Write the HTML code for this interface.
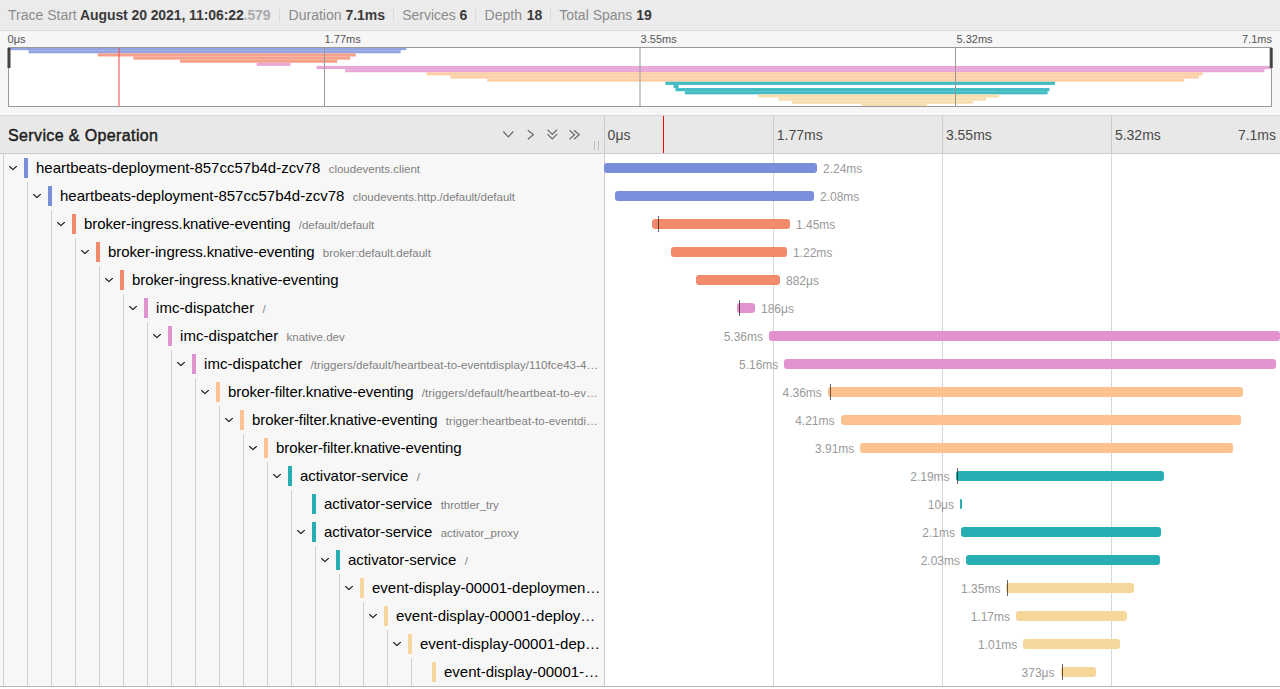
<!DOCTYPE html>
<html><head><meta charset="utf-8"><style>
*{box-sizing:border-box;margin:0;padding:0}
html,body{width:1280px;height:689px;overflow:hidden;background:#fff;font-family:"Liberation Sans",sans-serif;}
.abs{position:absolute}
#top{position:absolute;left:0;top:0;width:1280px;height:31px;background:#ebebeb;border-bottom:1px solid #dcdcdc}
#top span{position:absolute;top:0;line-height:30px;font-size:14px;white-space:nowrap}
.lbl{color:#8c8c8c}
.val{color:#3a3a3a;font-weight:bold}
.ms{color:#aaa}
.tight{letter-spacing:-0.09px}
.sep{position:absolute;top:9px;width:1px;height:13px;background:#dadada}
#mmwrap{position:absolute;left:0;top:31px;width:1280px;height:85px;background:#f6f6f6;border-bottom:1px solid #dadada}
.mmtick{position:absolute;top:2px;font-size:11px;color:#555;line-height:13px;white-space:nowrap}
#hdr{position:absolute;left:0;top:116px;width:1280px;height:38px;background:#e8e8e8;border-bottom:1px solid #cccccc}
#hdr h3{position:absolute;left:8px;top:1px;line-height:37px;font-size:16px;font-weight:normal;color:#1e1e1e;letter-spacing:0.38px;-webkit-text-stroke:0.45px #1e1e1e}
.htick{position:absolute;top:1px;line-height:37px;font-size:14px;color:#4a4a4a;white-space:nowrap}
#leftcol{position:absolute;left:0;top:154px;width:604px;height:532px;background:#f7f7f7}
#rightcol{position:absolute;left:605px;top:154px;width:675px;height:532px;background:#fff}
.vline{position:absolute;width:1px;background:#d8d8d8}
.guide{position:absolute;width:1px;background:#cfcfcf}
.cbar{position:absolute;width:4px;height:20px}
.name{position:absolute;white-space:nowrap;line-height:27px;height:27px;font-size:15px;color:#000}
.name small{font-size:11.5px;color:#808080;margin-left:8.3px}
.bar{position:absolute;height:10px;border-radius:3px}
.log{position:absolute;width:1px;height:16px;background:rgba(0,0,0,0.6)}
.blab{position:absolute;font-size:12px;color:#999;line-height:12px;white-space:nowrap}
</style></head><body>

<div id="top">
<span class="lbl" style="left:8px">Trace Start</span>
<span class="val tight" style="left:80px">August 20 2021, 11:06:22<span class="ms" style="position:static">.579</span></span>
<span class="lbl" style="left:288.6px">Duration</span>
<span class="val" style="left:345.4px">7.1ms</span>
<span class="lbl" style="left:402.2px">Services</span>
<span class="val" style="left:459.6px">6</span>
<span class="lbl" style="left:484.6px">Depth</span>
<span class="val" style="left:526.8px">18</span>
<span class="lbl" style="left:559.2px">Total Spans</span>
<span class="val" style="left:636.2px">19</span>
<div class="sep" style="left:279px"></div>
<div class="sep" style="left:393px"></div>
<div class="sep" style="left:475px"></div>
<div class="sep" style="left:550px"></div>
</div>
<div id="mmwrap">
<div class="mmtick" style="left:7.6px">0μs</div>
<div class="mmtick" style="left:324.6px">1.77ms</div>
<div class="mmtick" style="left:640.6px">3.55ms</div>
<div class="mmtick" style="left:956.5px">5.32ms</div>
<div class="mmtick" style="right:8px">7.1ms</div>
</div>
<svg class="abs" style="left:0;top:0" width="1280" height="116" viewBox="0 0 1280 116"><rect x="8" y="47" width="1264" height="60" fill="#fff"/><defs><clipPath id="mmclip"><rect x="9" y="48" width="1262" height="58"/></clipPath></defs><g clip-path="url(#mmclip)"><rect x="8.00" y="47.000" width="398.27" height="3.158" fill="#95a5e3"/><rect x="28.57" y="50.158" width="372.09" height="3.158" fill="#95a5e3"/><rect x="97.75" y="53.316" width="258.04" height="3.158" fill="#f5a189"/><rect x="133.28" y="56.474" width="216.90" height="3.158" fill="#f5a189"/><rect x="180.02" y="59.632" width="157.07" height="3.158" fill="#f5a189"/><rect x="256.69" y="62.789" width="33.66" height="3.158" fill="#e8a9d9"/><rect x="316.52" y="65.947" width="954.48" height="3.158" fill="#e8a9d9"/><rect x="345.13" y="69.105" width="919.39" height="3.158" fill="#e8a9d9"/><rect x="426.47" y="72.263" width="776.35" height="3.158" fill="#fdcfa7"/><rect x="450.21" y="75.421" width="748.86" height="3.158" fill="#fdcfa7"/><rect x="487.24" y="78.579" width="696.88" height="3.158" fill="#fdcfa7"/><rect x="665.43" y="81.737" width="389.67" height="3.158" fill="#40bcc2"/><rect x="673.66" y="84.895" width="5.00" height="3.158" fill="#40bcc2"/><rect x="675.53" y="88.053" width="373.96" height="3.158" fill="#40bcc2"/><rect x="684.88" y="91.211" width="362.75" height="3.158" fill="#40bcc2"/><rect x="758.32" y="94.368" width="240.69" height="3.158" fill="#f7deaf"/><rect x="778.37" y="97.526" width="207.55" height="3.158" fill="#f7deaf"/><rect x="792.02" y="100.684" width="180.81" height="3.158" fill="#f7deaf"/><rect x="861.57" y="103.842" width="65.63" height="3.158" fill="#f7deaf"/></g><line x1="324.5" y1="48" x2="324.5" y2="106" stroke="#999" stroke-width="1"/><line x1="640.0" y1="48" x2="640.0" y2="106" stroke="#999" stroke-width="1"/><line x1="955.5" y1="48" x2="955.5" y2="106" stroke="#999" stroke-width="1"/><line x1="119" y1="48" x2="119" y2="106" stroke="#f44" stroke-width="1"/><rect x="8.5" y="47.5" width="1263" height="59" fill="none" stroke="#999" stroke-width="1"/><rect x="7.5" y="48" width="3" height="20" fill="#444"/><rect x="1269.7" y="48" width="3" height="20" fill="#444"/></svg>
<div id="hdr"><h3>Service &amp; Operation</h3>
<div class="htick" style="left:607.6px">0μs</div>
<div class="htick" style="left:776.8px">1.77ms</div>
<div class="htick" style="left:945.9px">3.55ms</div>
<div class="htick" style="left:1114.9px">5.32ms</div>
<div class="htick" style="right:4px">7.1ms</div>
</div>
<svg class="abs" style="left:0;top:116px" width="604" height="38" viewBox="0 116 604 38">
<g fill="none" stroke="#666" stroke-width="1.15">
<polyline points="503.3,131.5 508.3,136.8 513.3,131.5"/>
<polyline points="527.8,130.2 533.4,134.7 527.8,139.2"/>
<polyline points="547.5,129.7 552.3,134.5 557.1,129.7"/><polyline points="547.5,134.2 552.3,139 557.1,134.2"/>
<polyline points="569.5,130.2 574.5,134.7 569.5,139.2"/><polyline points="574,130.2 579.2,134.7 574,139.2"/>
</g>
<line x1="594.5" y1="141" x2="594.5" y2="150" stroke="#bbb"/><line x1="598.5" y1="141" x2="598.5" y2="150" stroke="#bbb"/>
</svg>
<div id="leftcol"></div><div id="rightcol"></div>
<div class="vline" style="left:604px;top:116px;height:570px;background:#cccccc"></div>
<div class="vline" style="left:773px;top:116px;height:37px;background:#cccccc"></div>
<div class="vline" style="left:773px;top:154px;height:532px"></div>
<div class="vline" style="left:942px;top:116px;height:37px;background:#cccccc"></div>
<div class="vline" style="left:942px;top:154px;height:532px"></div>
<div class="vline" style="left:1111px;top:116px;height:37px;background:#cccccc"></div>
<div class="vline" style="left:1111px;top:154px;height:532px"></div>
<div class="vline" style="left:663px;top:116px;height:37px;background:#f00"></div>
<div class="guide" style="left:3px;top:154px;height:28px"></div>
<svg class="abs" style="left:8px;top:164px" width="11" height="8" viewBox="0 0 11 8"><polyline points="1.3,2.1 4.95,5.6 8.75,2.1" fill="none" stroke="#000" stroke-width="1.1"/></svg>
<div class="cbar" style="left:24px;top:158px;background:#7a8fdc"></div>
<div class="name" style="left:36px;top:154px"><span style="letter-spacing:0px">heartbeats-deployment-857cc57b4d-zcv78</span><small style="letter-spacing:0px">cloudevents.client</small></div>
<div class="bar" style="left:604px;top:163px;width:213.0px;background:#7a8fdc"></div>
<div class="blab" style="left:823.0px;top:163px">2.24ms</div>
<div class="guide" style="left:3px;top:182px;height:28px"></div>
<div class="guide" style="left:27px;top:182px;height:28px"></div>
<svg class="abs" style="left:32px;top:192px" width="11" height="8" viewBox="0 0 11 8"><polyline points="1.3,2.1 4.95,5.6 8.75,2.1" fill="none" stroke="#000" stroke-width="1.1"/></svg>
<div class="cbar" style="left:48px;top:186px;background:#7a8fdc"></div>
<div class="name" style="left:60px;top:182px"><span style="letter-spacing:0px">heartbeats-deployment-857cc57b4d-zcv78</span><small style="letter-spacing:0px">cloudevents.http./default/default</small></div>
<div class="bar" style="left:615px;top:191px;width:199.0px;background:#7a8fdc"></div>
<div class="blab" style="left:820.0px;top:191px">2.08ms</div>
<div class="guide" style="left:3px;top:210px;height:28px"></div>
<div class="guide" style="left:27px;top:210px;height:28px"></div>
<div class="guide" style="left:51px;top:210px;height:28px"></div>
<svg class="abs" style="left:56px;top:220px" width="11" height="8" viewBox="0 0 11 8"><polyline points="1.3,2.1 4.95,5.6 8.75,2.1" fill="none" stroke="#000" stroke-width="1.1"/></svg>
<div class="cbar" style="left:72px;top:214px;background:#f28a6b"></div>
<div class="name" style="left:84px;top:210px"><span style="letter-spacing:-0.09px">broker-ingress.knative-eventing</span><small style="letter-spacing:0px">/default/default</small></div>
<div class="bar" style="left:652px;top:219px;width:138.0px;background:#f28a6b"></div>
<div class="log" style="left:657.5px;top:216px"></div>
<div class="blab" style="left:796.0px;top:219px">1.45ms</div>
<div class="guide" style="left:3px;top:238px;height:28px"></div>
<div class="guide" style="left:27px;top:238px;height:28px"></div>
<div class="guide" style="left:51px;top:238px;height:28px"></div>
<div class="guide" style="left:75px;top:238px;height:28px"></div>
<svg class="abs" style="left:80px;top:248px" width="11" height="8" viewBox="0 0 11 8"><polyline points="1.3,2.1 4.95,5.6 8.75,2.1" fill="none" stroke="#000" stroke-width="1.1"/></svg>
<div class="cbar" style="left:96px;top:242px;background:#f28a6b"></div>
<div class="name" style="left:108px;top:238px"><span style="letter-spacing:-0.09px">broker-ingress.knative-eventing</span><small style="letter-spacing:0px">broker:default.default</small></div>
<div class="bar" style="left:671px;top:247px;width:116.0px;background:#f28a6b"></div>
<div class="blab" style="left:793.0px;top:247px">1.22ms</div>
<div class="guide" style="left:3px;top:266px;height:28px"></div>
<div class="guide" style="left:27px;top:266px;height:28px"></div>
<div class="guide" style="left:51px;top:266px;height:28px"></div>
<div class="guide" style="left:75px;top:266px;height:28px"></div>
<div class="guide" style="left:99px;top:266px;height:28px"></div>
<svg class="abs" style="left:104px;top:276px" width="11" height="8" viewBox="0 0 11 8"><polyline points="1.3,2.1 4.95,5.6 8.75,2.1" fill="none" stroke="#000" stroke-width="1.1"/></svg>
<div class="cbar" style="left:120px;top:270px;background:#f28a6b"></div>
<div class="name" style="left:132px;top:266px"><span style="letter-spacing:-0.09px">broker-ingress.knative-eventing</span></div>
<div class="bar" style="left:696px;top:275px;width:84.0px;background:#f28a6b"></div>
<div class="blab" style="left:786.0px;top:275px">882μs</div>
<div class="guide" style="left:3px;top:294px;height:28px"></div>
<div class="guide" style="left:27px;top:294px;height:28px"></div>
<div class="guide" style="left:51px;top:294px;height:28px"></div>
<div class="guide" style="left:75px;top:294px;height:28px"></div>
<div class="guide" style="left:99px;top:294px;height:28px"></div>
<div class="guide" style="left:123px;top:294px;height:28px"></div>
<svg class="abs" style="left:128px;top:304px" width="11" height="8" viewBox="0 0 11 8"><polyline points="1.3,2.1 4.95,5.6 8.75,2.1" fill="none" stroke="#000" stroke-width="1.1"/></svg>
<div class="cbar" style="left:144px;top:298px;background:#e293cf"></div>
<div class="name" style="left:156px;top:294px"><span style="letter-spacing:0.05px">imc-dispatcher</span><small style="letter-spacing:0px">/</small></div>
<div class="bar" style="left:737px;top:303px;width:18.0px;background:#e293cf"></div>
<div class="log" style="left:739.4px;top:300px"></div>
<div class="blab" style="left:761.0px;top:303px">186μs</div>
<div class="guide" style="left:3px;top:322px;height:28px"></div>
<div class="guide" style="left:27px;top:322px;height:28px"></div>
<div class="guide" style="left:51px;top:322px;height:28px"></div>
<div class="guide" style="left:75px;top:322px;height:28px"></div>
<div class="guide" style="left:99px;top:322px;height:28px"></div>
<div class="guide" style="left:123px;top:322px;height:28px"></div>
<div class="guide" style="left:147px;top:322px;height:28px"></div>
<svg class="abs" style="left:152px;top:332px" width="11" height="8" viewBox="0 0 11 8"><polyline points="1.3,2.1 4.95,5.6 8.75,2.1" fill="none" stroke="#000" stroke-width="1.1"/></svg>
<div class="cbar" style="left:168px;top:326px;background:#e293cf"></div>
<div class="name" style="left:180px;top:322px"><span style="letter-spacing:0.05px">imc-dispatcher</span><small style="letter-spacing:0px">knative.dev</small></div>
<div class="bar" style="left:769px;top:331px;width:511.0px;background:#e293cf"></div>
<div class="blab" style="right:517.0px;top:331px">5.36ms</div>
<div class="guide" style="left:3px;top:350px;height:28px"></div>
<div class="guide" style="left:27px;top:350px;height:28px"></div>
<div class="guide" style="left:51px;top:350px;height:28px"></div>
<div class="guide" style="left:75px;top:350px;height:28px"></div>
<div class="guide" style="left:99px;top:350px;height:28px"></div>
<div class="guide" style="left:123px;top:350px;height:28px"></div>
<div class="guide" style="left:147px;top:350px;height:28px"></div>
<div class="guide" style="left:171px;top:350px;height:28px"></div>
<svg class="abs" style="left:176px;top:360px" width="11" height="8" viewBox="0 0 11 8"><polyline points="1.3,2.1 4.95,5.6 8.75,2.1" fill="none" stroke="#000" stroke-width="1.1"/></svg>
<div class="cbar" style="left:192px;top:354px;background:#e293cf"></div>
<div class="name" style="left:204px;top:350px"><span style="letter-spacing:0.05px">imc-dispatcher</span><small style="letter-spacing:0.07px">/triggers/default/heartbeat-to-eventdisplay/110fce43-4…</small></div>
<div class="bar" style="left:784.3px;top:359px;width:491.7px;background:#e293cf"></div>
<div class="blab" style="right:501.7px;top:359px">5.16ms</div>
<div class="guide" style="left:3px;top:378px;height:28px"></div>
<div class="guide" style="left:27px;top:378px;height:28px"></div>
<div class="guide" style="left:51px;top:378px;height:28px"></div>
<div class="guide" style="left:75px;top:378px;height:28px"></div>
<div class="guide" style="left:99px;top:378px;height:28px"></div>
<div class="guide" style="left:123px;top:378px;height:28px"></div>
<div class="guide" style="left:147px;top:378px;height:28px"></div>
<div class="guide" style="left:171px;top:378px;height:28px"></div>
<div class="guide" style="left:195px;top:378px;height:28px"></div>
<svg class="abs" style="left:200px;top:388px" width="11" height="8" viewBox="0 0 11 8"><polyline points="1.3,2.1 4.95,5.6 8.75,2.1" fill="none" stroke="#000" stroke-width="1.1"/></svg>
<div class="cbar" style="left:216px;top:382px;background:#fcc391"></div>
<div class="name" style="left:228px;top:378px"><span style="letter-spacing:-0.1px">broker-filter.knative-eventing</span><small style="letter-spacing:0.12px">/triggers/default/heartbeat-to-ev…</small></div>
<div class="bar" style="left:827.8px;top:387px;width:415.2px;background:#fcc391"></div>
<div class="log" style="left:830.2px;top:384px"></div>
<div class="blab" style="right:458.2px;top:387px">4.36ms</div>
<div class="guide" style="left:3px;top:406px;height:28px"></div>
<div class="guide" style="left:27px;top:406px;height:28px"></div>
<div class="guide" style="left:51px;top:406px;height:28px"></div>
<div class="guide" style="left:75px;top:406px;height:28px"></div>
<div class="guide" style="left:99px;top:406px;height:28px"></div>
<div class="guide" style="left:123px;top:406px;height:28px"></div>
<div class="guide" style="left:147px;top:406px;height:28px"></div>
<div class="guide" style="left:171px;top:406px;height:28px"></div>
<div class="guide" style="left:195px;top:406px;height:28px"></div>
<div class="guide" style="left:219px;top:406px;height:28px"></div>
<svg class="abs" style="left:224px;top:416px" width="11" height="8" viewBox="0 0 11 8"><polyline points="1.3,2.1 4.95,5.6 8.75,2.1" fill="none" stroke="#000" stroke-width="1.1"/></svg>
<div class="cbar" style="left:240px;top:410px;background:#fcc391"></div>
<div class="name" style="left:252px;top:406px"><span style="letter-spacing:-0.1px">broker-filter.knative-eventing</span><small style="letter-spacing:0.06px">trigger:heartbeat-to-eventdi…</small></div>
<div class="bar" style="left:840.5px;top:415px;width:400.5px;background:#fcc391"></div>
<div class="blab" style="right:445.5px;top:415px">4.21ms</div>
<div class="guide" style="left:3px;top:434px;height:28px"></div>
<div class="guide" style="left:27px;top:434px;height:28px"></div>
<div class="guide" style="left:51px;top:434px;height:28px"></div>
<div class="guide" style="left:75px;top:434px;height:28px"></div>
<div class="guide" style="left:99px;top:434px;height:28px"></div>
<div class="guide" style="left:123px;top:434px;height:28px"></div>
<div class="guide" style="left:147px;top:434px;height:28px"></div>
<div class="guide" style="left:171px;top:434px;height:28px"></div>
<div class="guide" style="left:195px;top:434px;height:28px"></div>
<div class="guide" style="left:219px;top:434px;height:28px"></div>
<div class="guide" style="left:243px;top:434px;height:28px"></div>
<svg class="abs" style="left:248px;top:444px" width="11" height="8" viewBox="0 0 11 8"><polyline points="1.3,2.1 4.95,5.6 8.75,2.1" fill="none" stroke="#000" stroke-width="1.1"/></svg>
<div class="cbar" style="left:264px;top:438px;background:#fcc391"></div>
<div class="name" style="left:276px;top:434px"><span style="letter-spacing:-0.1px">broker-filter.knative-eventing</span></div>
<div class="bar" style="left:860.3px;top:443px;width:372.7px;background:#fcc391"></div>
<div class="blab" style="right:425.7px;top:443px">3.91ms</div>
<div class="guide" style="left:3px;top:462px;height:28px"></div>
<div class="guide" style="left:27px;top:462px;height:28px"></div>
<div class="guide" style="left:51px;top:462px;height:28px"></div>
<div class="guide" style="left:75px;top:462px;height:28px"></div>
<div class="guide" style="left:99px;top:462px;height:28px"></div>
<div class="guide" style="left:123px;top:462px;height:28px"></div>
<div class="guide" style="left:147px;top:462px;height:28px"></div>
<div class="guide" style="left:171px;top:462px;height:28px"></div>
<div class="guide" style="left:195px;top:462px;height:28px"></div>
<div class="guide" style="left:219px;top:462px;height:28px"></div>
<div class="guide" style="left:243px;top:462px;height:28px"></div>
<div class="guide" style="left:267px;top:462px;height:28px"></div>
<svg class="abs" style="left:272px;top:472px" width="11" height="8" viewBox="0 0 11 8"><polyline points="1.3,2.1 4.95,5.6 8.75,2.1" fill="none" stroke="#000" stroke-width="1.1"/></svg>
<div class="cbar" style="left:288px;top:466px;background:#27adb2"></div>
<div class="name" style="left:300px;top:462px"><span style="letter-spacing:-0.05px">activator-service</span><small style="letter-spacing:0px">/</small></div>
<div class="bar" style="left:955.6px;top:471px;width:208.4px;background:#27adb2"></div>
<div class="log" style="left:957.0px;top:468px"></div>
<div class="blab" style="right:330.4px;top:471px">2.19ms</div>
<div class="guide" style="left:3px;top:490px;height:28px"></div>
<div class="guide" style="left:27px;top:490px;height:28px"></div>
<div class="guide" style="left:51px;top:490px;height:28px"></div>
<div class="guide" style="left:75px;top:490px;height:28px"></div>
<div class="guide" style="left:99px;top:490px;height:28px"></div>
<div class="guide" style="left:123px;top:490px;height:28px"></div>
<div class="guide" style="left:147px;top:490px;height:28px"></div>
<div class="guide" style="left:171px;top:490px;height:28px"></div>
<div class="guide" style="left:195px;top:490px;height:28px"></div>
<div class="guide" style="left:219px;top:490px;height:28px"></div>
<div class="guide" style="left:243px;top:490px;height:28px"></div>
<div class="guide" style="left:267px;top:490px;height:28px"></div>
<div class="guide" style="left:291px;top:490px;height:28px"></div>
<div class="cbar" style="left:312px;top:494px;background:#27adb2"></div>
<div class="name" style="left:324px;top:490px"><span style="letter-spacing:-0.05px">activator-service</span><small style="letter-spacing:0px">throttler_try</small></div>
<div class="bar" style="left:960px;top:499px;width:2.0px;background:#27adb2"></div>
<div class="blab" style="right:326.0px;top:499px">10μs</div>
<div class="guide" style="left:3px;top:518px;height:28px"></div>
<div class="guide" style="left:27px;top:518px;height:28px"></div>
<div class="guide" style="left:51px;top:518px;height:28px"></div>
<div class="guide" style="left:75px;top:518px;height:28px"></div>
<div class="guide" style="left:99px;top:518px;height:28px"></div>
<div class="guide" style="left:123px;top:518px;height:28px"></div>
<div class="guide" style="left:147px;top:518px;height:28px"></div>
<div class="guide" style="left:171px;top:518px;height:28px"></div>
<div class="guide" style="left:195px;top:518px;height:28px"></div>
<div class="guide" style="left:219px;top:518px;height:28px"></div>
<div class="guide" style="left:243px;top:518px;height:28px"></div>
<div class="guide" style="left:267px;top:518px;height:28px"></div>
<div class="guide" style="left:291px;top:518px;height:28px"></div>
<svg class="abs" style="left:296px;top:528px" width="11" height="8" viewBox="0 0 11 8"><polyline points="1.3,2.1 4.95,5.6 8.75,2.1" fill="none" stroke="#000" stroke-width="1.1"/></svg>
<div class="cbar" style="left:312px;top:522px;background:#27adb2"></div>
<div class="name" style="left:324px;top:518px"><span style="letter-spacing:-0.05px">activator-service</span><small style="letter-spacing:0px">activator_proxy</small></div>
<div class="bar" style="left:961px;top:527px;width:200.0px;background:#27adb2"></div>
<div class="blab" style="right:325.0px;top:527px">2.1ms</div>
<div class="guide" style="left:3px;top:546px;height:28px"></div>
<div class="guide" style="left:27px;top:546px;height:28px"></div>
<div class="guide" style="left:51px;top:546px;height:28px"></div>
<div class="guide" style="left:75px;top:546px;height:28px"></div>
<div class="guide" style="left:99px;top:546px;height:28px"></div>
<div class="guide" style="left:123px;top:546px;height:28px"></div>
<div class="guide" style="left:147px;top:546px;height:28px"></div>
<div class="guide" style="left:171px;top:546px;height:28px"></div>
<div class="guide" style="left:195px;top:546px;height:28px"></div>
<div class="guide" style="left:219px;top:546px;height:28px"></div>
<div class="guide" style="left:243px;top:546px;height:28px"></div>
<div class="guide" style="left:267px;top:546px;height:28px"></div>
<div class="guide" style="left:291px;top:546px;height:28px"></div>
<div class="guide" style="left:315px;top:546px;height:28px"></div>
<svg class="abs" style="left:320px;top:556px" width="11" height="8" viewBox="0 0 11 8"><polyline points="1.3,2.1 4.95,5.6 8.75,2.1" fill="none" stroke="#000" stroke-width="1.1"/></svg>
<div class="cbar" style="left:336px;top:550px;background:#27adb2"></div>
<div class="name" style="left:348px;top:546px"><span style="letter-spacing:-0.05px">activator-service</span><small style="letter-spacing:0px">/</small></div>
<div class="bar" style="left:966px;top:555px;width:194.0px;background:#27adb2"></div>
<div class="blab" style="right:320.0px;top:555px">2.03ms</div>
<div class="guide" style="left:3px;top:574px;height:28px"></div>
<div class="guide" style="left:27px;top:574px;height:28px"></div>
<div class="guide" style="left:51px;top:574px;height:28px"></div>
<div class="guide" style="left:75px;top:574px;height:28px"></div>
<div class="guide" style="left:99px;top:574px;height:28px"></div>
<div class="guide" style="left:123px;top:574px;height:28px"></div>
<div class="guide" style="left:147px;top:574px;height:28px"></div>
<div class="guide" style="left:171px;top:574px;height:28px"></div>
<div class="guide" style="left:195px;top:574px;height:28px"></div>
<div class="guide" style="left:219px;top:574px;height:28px"></div>
<div class="guide" style="left:243px;top:574px;height:28px"></div>
<div class="guide" style="left:267px;top:574px;height:28px"></div>
<div class="guide" style="left:291px;top:574px;height:28px"></div>
<div class="guide" style="left:315px;top:574px;height:28px"></div>
<div class="guide" style="left:339px;top:574px;height:28px"></div>
<svg class="abs" style="left:344px;top:584px" width="11" height="8" viewBox="0 0 11 8"><polyline points="1.3,2.1 4.95,5.6 8.75,2.1" fill="none" stroke="#000" stroke-width="1.1"/></svg>
<div class="cbar" style="left:360px;top:578px;background:#f5d69b"></div>
<div class="name" style="left:372px;top:574px"><span style="letter-spacing:0px">event-display-00001-deploymen…</span></div>
<div class="bar" style="left:1006.4px;top:583px;width:127.6px;background:#f5d69b"></div>
<div class="log" style="left:1007.3px;top:580px"></div>
<div class="blab" style="right:279.6px;top:583px">1.35ms</div>
<div class="guide" style="left:3px;top:602px;height:28px"></div>
<div class="guide" style="left:27px;top:602px;height:28px"></div>
<div class="guide" style="left:51px;top:602px;height:28px"></div>
<div class="guide" style="left:75px;top:602px;height:28px"></div>
<div class="guide" style="left:99px;top:602px;height:28px"></div>
<div class="guide" style="left:123px;top:602px;height:28px"></div>
<div class="guide" style="left:147px;top:602px;height:28px"></div>
<div class="guide" style="left:171px;top:602px;height:28px"></div>
<div class="guide" style="left:195px;top:602px;height:28px"></div>
<div class="guide" style="left:219px;top:602px;height:28px"></div>
<div class="guide" style="left:243px;top:602px;height:28px"></div>
<div class="guide" style="left:267px;top:602px;height:28px"></div>
<div class="guide" style="left:291px;top:602px;height:28px"></div>
<div class="guide" style="left:315px;top:602px;height:28px"></div>
<div class="guide" style="left:339px;top:602px;height:28px"></div>
<div class="guide" style="left:363px;top:602px;height:28px"></div>
<svg class="abs" style="left:368px;top:612px" width="11" height="8" viewBox="0 0 11 8"><polyline points="1.3,2.1 4.95,5.6 8.75,2.1" fill="none" stroke="#000" stroke-width="1.1"/></svg>
<div class="cbar" style="left:384px;top:606px;background:#f5d69b"></div>
<div class="name" style="left:396px;top:602px"><span style="letter-spacing:0px">event-display-00001-deploy…</span></div>
<div class="bar" style="left:1016px;top:611px;width:111.0px;background:#f5d69b"></div>
<div class="blab" style="right:270.0px;top:611px">1.17ms</div>
<div class="guide" style="left:3px;top:630px;height:28px"></div>
<div class="guide" style="left:27px;top:630px;height:28px"></div>
<div class="guide" style="left:51px;top:630px;height:28px"></div>
<div class="guide" style="left:75px;top:630px;height:28px"></div>
<div class="guide" style="left:99px;top:630px;height:28px"></div>
<div class="guide" style="left:123px;top:630px;height:28px"></div>
<div class="guide" style="left:147px;top:630px;height:28px"></div>
<div class="guide" style="left:171px;top:630px;height:28px"></div>
<div class="guide" style="left:195px;top:630px;height:28px"></div>
<div class="guide" style="left:219px;top:630px;height:28px"></div>
<div class="guide" style="left:243px;top:630px;height:28px"></div>
<div class="guide" style="left:267px;top:630px;height:28px"></div>
<div class="guide" style="left:291px;top:630px;height:28px"></div>
<div class="guide" style="left:315px;top:630px;height:28px"></div>
<div class="guide" style="left:339px;top:630px;height:28px"></div>
<div class="guide" style="left:363px;top:630px;height:28px"></div>
<div class="guide" style="left:387px;top:630px;height:28px"></div>
<svg class="abs" style="left:392px;top:640px" width="11" height="8" viewBox="0 0 11 8"><polyline points="1.3,2.1 4.95,5.6 8.75,2.1" fill="none" stroke="#000" stroke-width="1.1"/></svg>
<div class="cbar" style="left:408px;top:634px;background:#f5d69b"></div>
<div class="name" style="left:420px;top:630px"><span style="letter-spacing:0px">event-display-00001-dep…</span></div>
<div class="bar" style="left:1023.3px;top:639px;width:96.7px;background:#f5d69b"></div>
<div class="blab" style="right:262.7px;top:639px">1.01ms</div>
<div class="guide" style="left:3px;top:658px;height:28px"></div>
<div class="guide" style="left:27px;top:658px;height:28px"></div>
<div class="guide" style="left:51px;top:658px;height:28px"></div>
<div class="guide" style="left:75px;top:658px;height:28px"></div>
<div class="guide" style="left:99px;top:658px;height:28px"></div>
<div class="guide" style="left:123px;top:658px;height:28px"></div>
<div class="guide" style="left:147px;top:658px;height:28px"></div>
<div class="guide" style="left:171px;top:658px;height:28px"></div>
<div class="guide" style="left:195px;top:658px;height:28px"></div>
<div class="guide" style="left:219px;top:658px;height:28px"></div>
<div class="guide" style="left:243px;top:658px;height:28px"></div>
<div class="guide" style="left:267px;top:658px;height:28px"></div>
<div class="guide" style="left:291px;top:658px;height:28px"></div>
<div class="guide" style="left:315px;top:658px;height:28px"></div>
<div class="guide" style="left:339px;top:658px;height:28px"></div>
<div class="guide" style="left:363px;top:658px;height:28px"></div>
<div class="guide" style="left:387px;top:658px;height:28px"></div>
<div class="guide" style="left:411px;top:658px;height:28px"></div>
<div class="cbar" style="left:432px;top:662px;background:#f5d69b"></div>
<div class="name" style="left:444px;top:658px"><span style="letter-spacing:0px">event-display-00001-…</span></div>
<div class="bar" style="left:1060.5px;top:667px;width:35.1px;background:#f5d69b"></div>
<div class="log" style="left:1062.4px;top:664px"></div>
<div class="blab" style="right:225.5px;top:667px">373μs</div>
<div class="abs" style="left:0;top:686px;width:1280px;height:1px;background:#b9b9b9"></div>
</body></html>
